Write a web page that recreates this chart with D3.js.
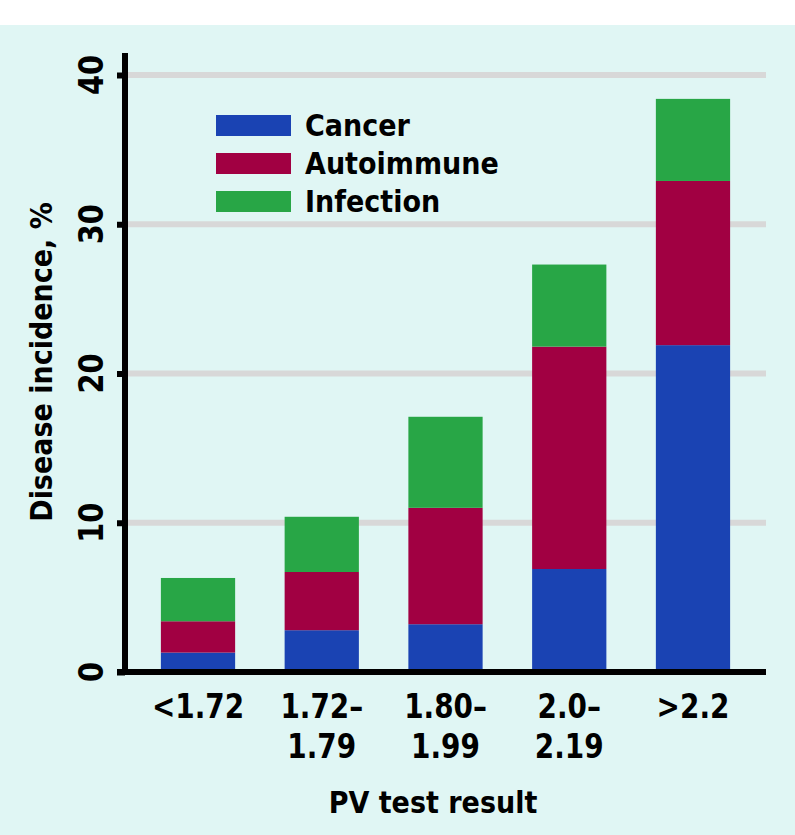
<!DOCTYPE html>
<html>
<head>
<meta charset="utf-8">
<script src="https://cdn.jsdelivr.net/npm/d3@7"></script>
<style>
	body { margin: 0; background: #fff; }
	text { font-family: "DejaVu Sans Condensed", "Liberation Sans Narrow", sans-serif; font-weight: bold; fill: #000; }
</style>
</head>
<body>
<svg id="chart" width="795" height="835"></svg>
<script>
const categories = [["<1.72"], ["1.72–", "1.79"], ["1.80–", "1.99"], ["2.0–", "2.19"], [">2.2"]]
const seriesNames = ["Cancer", "Autoimmune", "Infection"]
const cancer = [1.3, 2.8, 3.2, 6.9, 21.9]
const autoimmune = [2.1, 3.9, 7.8, 14.9, 11.0]
const infection = [2.9, 3.7, 6.1, 5.5, 5.5]
const yTicks = [0, 10, 20, 30, 40]
const colors = ["#1a43b3", "#a10042", "#28a646"]

const svg = d3.select("#chart")

svg.append("rect").attr("x", 0).attr("y", 25).attr("width", 795).attr("height", 810).attr("fill", "#e0f6f4")

const rows = categories.map((c, i) => ({key: i, Cancer: cancer[i], Autoimmune: autoimmune[i], Infection: infection[i]}))
const stacked = d3.stack().keys(seriesNames)(rows)

const x = d3.scaleBand().domain(d3.range(categories.length)).range([125, 766]).paddingInner(0.4).paddingOuter(0.29)
const y = d3.scaleLinear().domain([0, 40]).range([672, 75])

//gridlines
svg.append("g").selectAll("line")
	.data(yTicks.filter(t => t > 0))
	.join("line")
		.attr("x1", 125).attr("x2", 766)
		.attr("y1", d => y(d)).attr("y2", d => y(d))
		.attr("stroke", "#d8d8d8").attr("stroke-width", 6)

svg.append("g").selectAll("g")
	.data(stacked)
	.join("g")
		.attr("fill", (d, i) => colors[i])
	.selectAll("rect")
	.data(d => d)
	.join("rect")
		.attr("x", d => x(d.data.key))
		.attr("width", x.bandwidth())
		.attr("y", d => y(d[1]))
		.attr("height", d => y(d[0]) - y(d[1]))

//y axis
const yAxis = svg.append("g").attr("transform", "translate(125,0)")
	.call(d3.axisLeft(y).tickValues(yTicks).tickSize(8).tickFormat(""))
yAxis.select(".domain").remove()
yAxis.selectAll(".tick line").attr("stroke", "#000").attr("stroke-width", 6)
yAxis.append("line").attr("x1", 0).attr("x2", 0).attr("y1", 53).attr("y2", 675)
	.attr("stroke", "#000").attr("stroke-width", 6)

svg.append("g").selectAll("text")
	.data(yTicks)
	.join("text")
		.attr("transform", d => `translate(103,${y(d)}) rotate(-90) scale(1,1.08)`)
		.attr("text-anchor", "middle")
		.attr("font-size", 32)
		.text(d => d)

//x axis
const xAxis = svg.append("g").attr("transform", "translate(0,672)")
	.call(d3.axisBottom(x).tickSize(0).tickFormat(""))
xAxis.select(".domain").remove()
xAxis.append("line").attr("x1", 117).attr("x2", 766).attr("y1", 0).attr("y2", 0)
	.attr("stroke", "#000").attr("stroke-width", 6)

svg.append("g").selectAll("text")
	.data(categories)
	.join("text")
		.attr("text-anchor", "middle")
		.attr("font-size", 31)
		.attr("transform", (d, i) => `translate(${x(i) + x.bandwidth() / 2},718) scale(1,1.1)`)
		.selectAll("tspan")
		.data(d => d)
		.join("tspan")
			.attr("x", 0)
			.attr("y", (d, i) => i * 36)
			.text(d => d)

svg.append("text")
	.attr("x", 433).attr("y", 813)
	.attr("text-anchor", "middle")
	.attr("font-size", 30)
	.text("PV test result")

svg.append("text")
	.attr("transform", "translate(52,362) rotate(-90)")
	.attr("text-anchor", "middle")
	.attr("font-size", 30)
	.text("Disease incidence, %")

//legend
const legend = svg.append("g").selectAll("g")
	.data(seriesNames)
	.join("g")
		.attr("transform", (d, i) => `translate(216,${115 + i * 38})`)
legend.append("rect").attr("width", 75).attr("height", 21).attr("fill", (d, i) => colors[i])
legend.append("text").attr("x", 89).attr("y", 21).attr("font-size", 30).text(d => d)
</script>
</body>
</html>
